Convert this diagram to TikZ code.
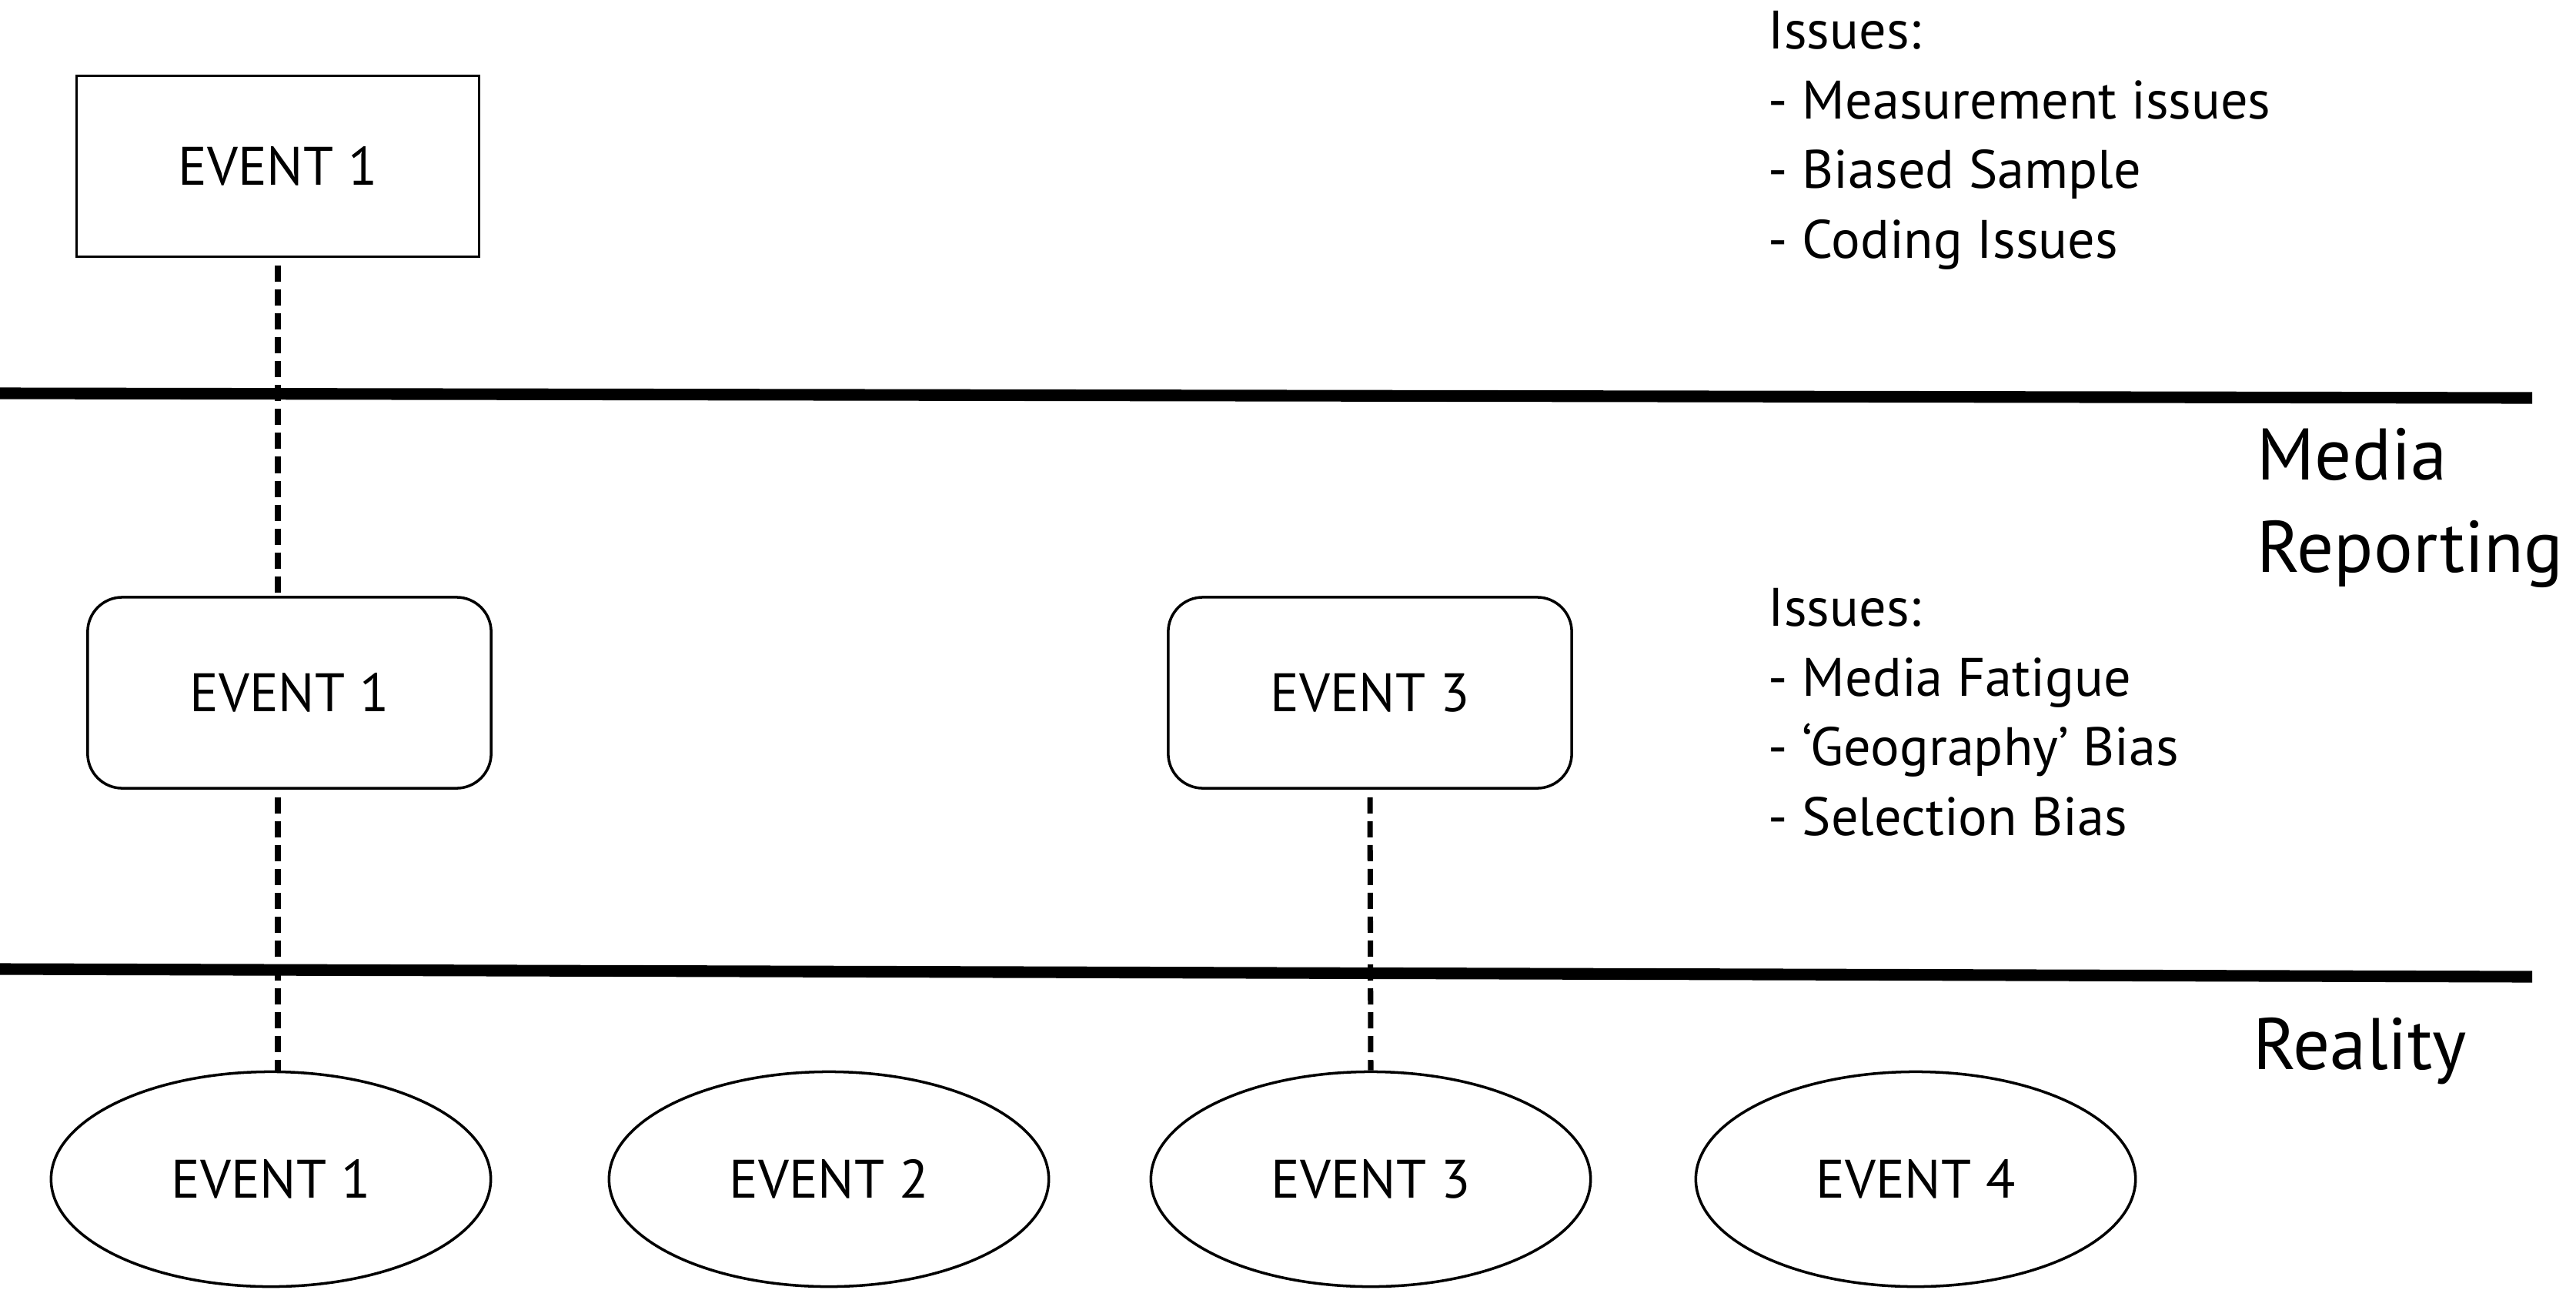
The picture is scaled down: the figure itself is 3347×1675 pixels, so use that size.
\documentclass[tikz,border=0pt]{standalone}
\usepackage{fontspec}
\setmainfont{PT Sans}
\usepackage{tikz}
\usetikzlibrary{shapes.geometric}

\begin{document}
\begin{tikzpicture}[x=0.01cm, y=-0.01cm, font=\fontsize{20pt}{25.7pt}\selectfont,
	paper/.style={draw, line width=1pt, inner sep=0pt, minimum width=5.23cm, minimum height=2.35cm},
	media/.style={draw, line width=1pt, rounded corners=0.45cm, inner sep=0pt, minimum width=5.24cm, minimum height=2.48cm},
	real/.style={draw, ellipse, line width=1pt, inner sep=0pt, minimum width=5.71cm, minimum height=2.79cm},
	link/.style={line width=2pt, dash pattern=on 0.21cm off 0.1cm},
	layer/.style={line width=4.3pt},
	issues/.style={anchor=north west, align=left, inner sep=0pt},
	level/.style={anchor=north west, align=left, inner sep=0pt, font=\fontsize{27pt}{34pt}\selectfont}]
			\useasboundingbox (0,0) rectangle (3347,1675);
			
			\node[paper] (paper1) at (361,216) {EVENT 1};
			\node[media] (media1) at (376,900) {EVENT 1};
			\node[media] (media3) at (1780,900) {EVENT 3};
			\node[real] (real1) at (352,1532) {EVENT 1};
			\node[real] (real2) at (1077,1532) {EVENT 2};
			\node[real] (real3) at (1781,1532) {EVENT 3};
			\node[real] (real4) at (2489,1532) {EVENT 4};
			
			\draw[layer] (0,511) -- (3290,517);
			\draw[layer] (0,1259) -- (3290,1269);
			
			\draw[link, shorten <=1mm] (paper1.south) -- (paper1.south |- media1.north);
			\draw[link, shorten <=1mm] (paper1.south |- media1.south) -- (paper1.south |- real1.north);
			\draw[link, shorten <=1mm] (media3.south) -- (real3.north);
			
			\node[issues] (paperissues) at (2297,14) {Issues:\\- Measurement issues\\- Biased Sample\\- Coding Issues};
			\node[issues] (mediaissues) at (2297,764) {Issues:\\- Media Fatigue\\- ‘Geography’ Bias\\- Selection Bias};
			\node[level] (medialevel) at (2932,556) {Media\\Reporting};
			\node[level] (reallevel) at (2927,1322) {Reality};
		\end{tikzpicture}
\end{document}
